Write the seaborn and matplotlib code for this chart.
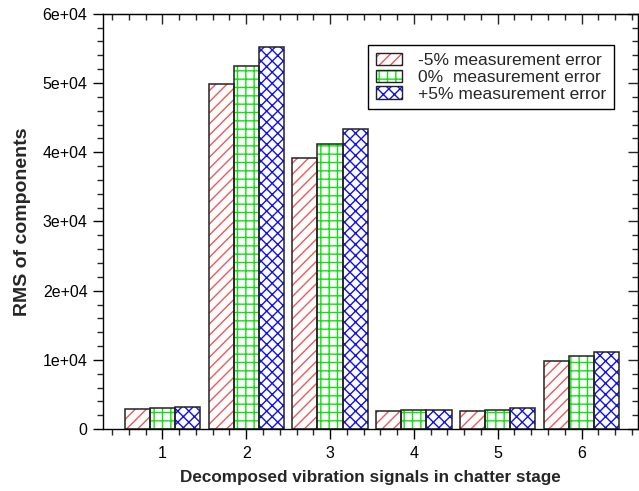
import matplotlib
matplotlib.use('Agg')
import matplotlib.pyplot as plt
import numpy as np
import pandas as pd
import seaborn as sns
from matplotlib.patches import Patch
from matplotlib.ticker import FixedLocator, FuncFormatter, MultipleLocator

signals = ['1', '2', '3', '4', '5', '6']
err_labels = ['-5% measurement error', '0%  measurement error', '+5% measurement error']
rms_minus5 = [2850, 49900, 39200, 2600, 2600, 9900]
rms_zero = [3000, 52500, 41200, 2800, 2800, 10500]
rms_plus5 = [3200, 55200, 43300, 2800, 3000, 11100]

hatch_colors = ['#f05858', '#10e010', '#1010f0']
hatches = ['///', '++', 'xxx']

df = pd.DataFrame({
    'signal': signals * 3,
    'error': np.repeat(err_labels, len(signals)),
    'rms': rms_minus5 + rms_zero + rms_plus5,
})

sns.set_style('ticks')
plt.rcParams['font.family'] = ['Liberation Sans', 'DejaVu Sans']
plt.rcParams['hatch.linewidth'] = 1.0

fig = plt.figure(figsize=(6.39, 4.91), dpi=100)
ax = fig.add_axes([0.161, 0.126, 0.837, 0.846])

# hatched fill
sns.barplot(data=df, x='signal', y='rms', hue='error', hue_order=err_labels,
            palette=['white'] * 3, saturation=1, width=0.9, errorbar=None,
            linewidth=0, legend=False, ax=ax)
for cont, col, h in zip(ax.containers, hatch_colors, hatches):
    for bar in cont:
        bar.set_hatch(h)
        bar.set_edgecolor(col)
        bar.set_linewidth(0)

# black outlines on top
sns.barplot(data=df, x='signal', y='rms', hue='error', hue_order=err_labels,
            palette=['#222222'] * 3, fill=False, width=0.9, errorbar=None,
            linewidth=1.1, legend=False, ax=ax)

ax.set_xlim(-0.71, 5.67)
ax.set_ylim(0, 60000)
ax.xaxis.set_major_locator(FixedLocator(range(6)))
ax.xaxis.set_minor_locator(MultipleLocator(0.2))
ax.yaxis.set_major_locator(MultipleLocator(10000))
ax.yaxis.set_minor_locator(MultipleLocator(2000))
ax.yaxis.set_major_formatter(FuncFormatter(lambda v, p: '0' if v == 0 else f'{v:.0e}'))
ax.set_xticklabels(signals)

for s in ax.spines.values():
    s.set_visible(True)
    s.set_linewidth(1.0)
    s.set_color('black')

ax.tick_params(which='major', length=7.5, width=1.0, direction='out', labelsize=11.5, colors='black')
ax.tick_params(axis='x', which='major', pad=5)
ax.tick_params(which='minor', length=4, width=1.0, direction='out')

# mirrored inward ticks on top and right
top = ax.secondary_xaxis('top')
top.xaxis.set_major_locator(FixedLocator(range(6)))
top.xaxis.set_minor_locator(MultipleLocator(0.2))
top.tick_params(which='major', length=7.5, width=1.0, direction='in', labeltop=False)
top.tick_params(which='minor', length=4, width=1.0, direction='in')
right = ax.secondary_yaxis('right')
right.yaxis.set_major_locator(MultipleLocator(10000))
right.yaxis.set_minor_locator(MultipleLocator(2000))
right.tick_params(which='major', length=7.5, width=1.0, direction='in', labelright=False)
right.tick_params(which='minor', length=4, width=1.0, direction='in')

ax.set_xlabel('Decomposed vibration signals in chatter stage', fontsize=12.3, fontweight='bold', labelpad=6)
ax.set_ylabel('RMS of components', fontsize=14, fontweight='bold', labelpad=8)

handles = [(Patch(facecolor='white', edgecolor=c, hatch=h, linewidth=0),
            Patch(facecolor='none', edgecolor='#222222', linewidth=1.0))
           for c, h in zip(hatch_colors, hatches)]
leg = ax.legend(handles, err_labels, loc='upper right', bbox_to_anchor=(0.955, 0.925),
                borderaxespad=0, fontsize=12.5, frameon=True, fancybox=False,
                edgecolor='black', framealpha=1, handlelength=1.5, handleheight=0.7,
                labelspacing=0.1, borderpad=0.45, handletextpad=0.9)
leg.get_frame().set_linewidth(1.0)

fig.savefig('out.png', dpi=100)
